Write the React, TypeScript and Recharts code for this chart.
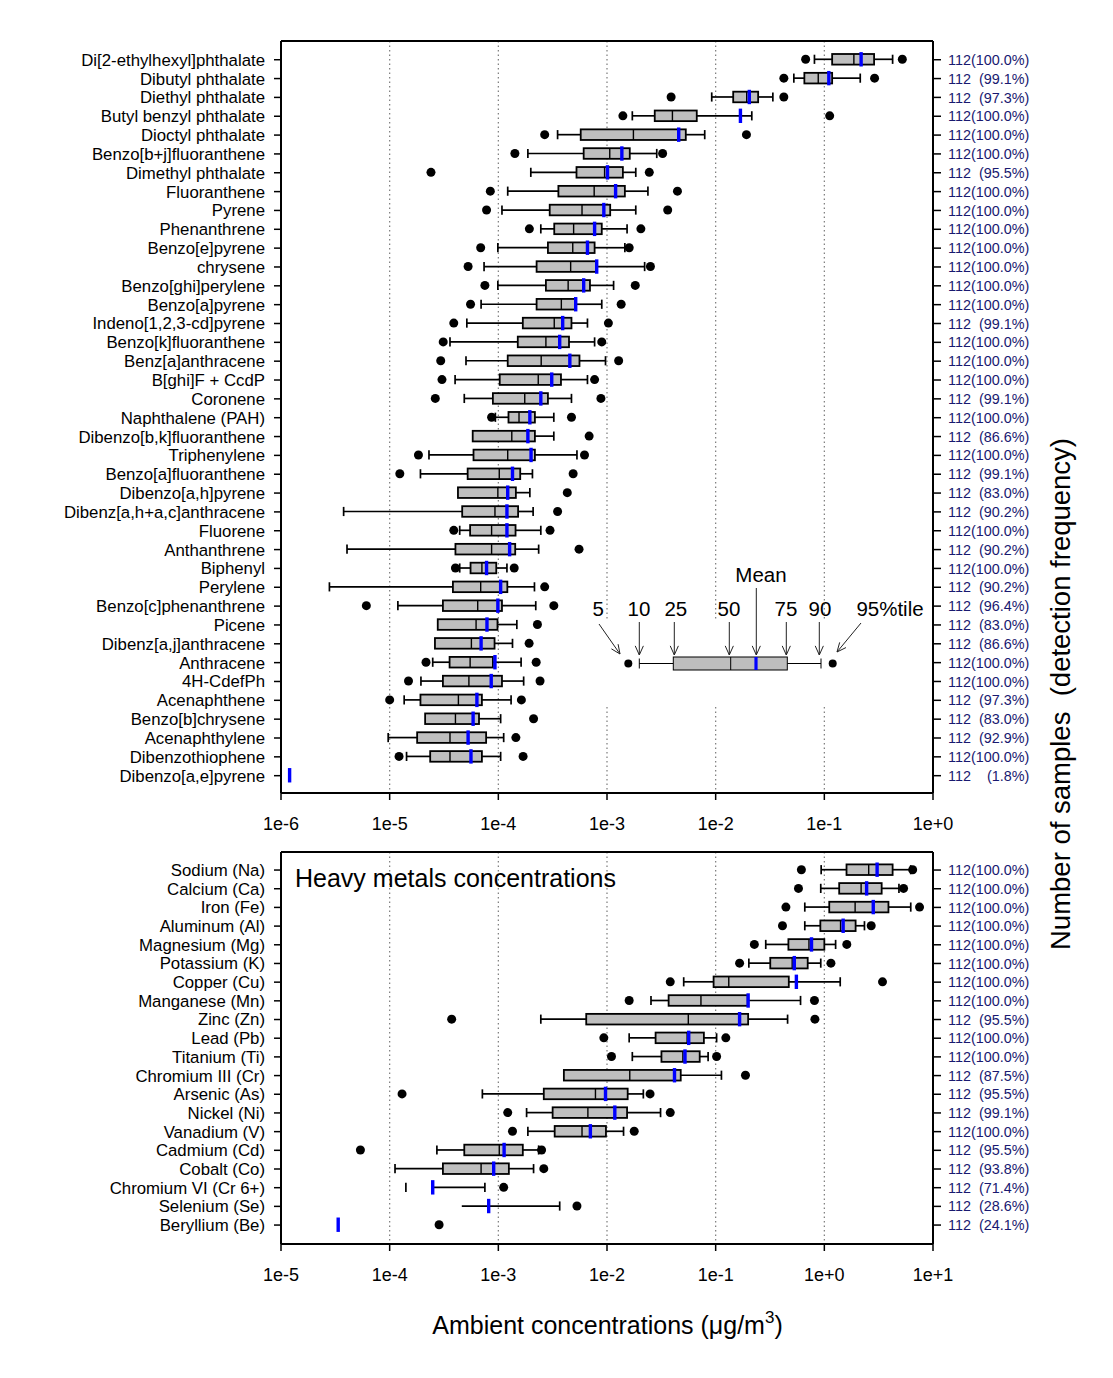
import React from 'react';
import { ComposedChart, Bar, XAxis, YAxis, CartesianGrid } from 'recharts';

const FONT = '"Liberation Sans", Arial, Helvetica, sans-serif';
const N_SAMPLES = 112;

// ---------- organic compounds (upper panel), ug/m3 ----------
const organicNames = [
  'Di[2-ethylhexyl]phthalate', 'Dibutyl phthalate', 'Diethyl phthalate', 'Butyl benzyl phthalate',
  'Dioctyl phthalate', 'Benzo[b+j]fluoranthene', 'Dimethyl phthalate', 'Fluoranthene', 'Pyrene',
  'Phenanthrene', 'Benzo[e]pyrene', 'chrysene', 'Benzo[ghi]perylene', 'Benzo[a]pyrene',
  'Indeno[1,2,3-cd]pyrene', 'Benzo[k]fluoranthene', 'Benz[a]anthracene', 'B[ghi]F + CcdP',
  'Coronene', 'Naphthalene (PAH)', 'Dibenzo[b,k]fluoranthene', 'Triphenylene',
  'Benzo[a]fluoranthene', 'Dibenzo[a,h]pyrene', 'Dibenz[a,h+a,c]anthracene', 'Fluorene',
  'Anthanthrene', 'Biphenyl', 'Perylene', 'Benzo[c]phenanthrene', 'Picene',
  'Dibenz[a,j]anthracene', 'Anthracene', '4H-CdefPh', 'Acenaphthene', 'Benzo[b]chrysene',
  'Acenaphthylene', 'Dibenzothiophene', 'Dibenzo[a,e]pyrene',
];
const organicFreq = [
  100, 99.1, 97.3, 100, 100, 100, 95.5, 100, 100, 100,
  100, 100, 100, 100, 99.1, 100, 100, 100, 99.1, 100,
  86.6, 100, 99.1, 83.0, 90.2, 100, 90.2, 100, 90.2, 96.4,
  83.0, 86.6, 100, 100, 97.3, 83.0, 92.9, 100, 1.8,
];
const organicP5 = [
  0.0673, 0.0424, 0.00389, 0.0014, 2.67e-4, 1.42e-4, 2.4e-5, 8.44e-5, 7.79e-5, 1.93e-4,
  6.88e-5, 5.27e-5, 7.52e-5, 5.55e-5, 3.89e-5, 3.11e-5, 2.95e-5, 3.03e-5, 2.63e-5, 8.67e-5,
  null, 1.84e-5, 1.24e-5, null, null, 3.89e-5, null, 4.03e-5, null, 6.1e-6,
  null, null, 2.16e-5, 1.49e-5, 1.0e-5, null, null, 1.22e-5, null,
];
const organicP10 = [
  0.0811, 0.0524, 0.0092, 0.00171, 3.51e-4, 1.87e-4, 1.99e-4, 1.22e-4, 1.08e-4, 2.46e-4,
  9.9e-5, 7.39e-5, 9.9e-5, 6.94e-5, 5.13e-5, 3.59e-5, 5.04e-5, 4.0e-5, 4.86e-5, 9.39e-5,
  null, 2.3e-5, 1.92e-5, null, 3.77e-6, 4.41e-5, 4.05e-6, 4.41e-5, 2.79e-6, 1.19e-5,
  null, null, 2.49e-5, 1.94e-5, 1.36e-5, null, 9.69e-6, 1.43e-5, null,
];
const organicP25 = [
  0.118, 0.0655, 0.0145, 0.00275, 5.73e-4, 6.1e-4, 5.24e-4, 3.57e-4, 2.97e-4, 3.27e-4,
  2.86e-4, 2.25e-4, 2.74e-4, 2.25e-4, 1.68e-4, 1.51e-4, 1.22e-4, 1.03e-4, 8.91e-5, 1.24e-4,
  5.81e-5, 5.91e-5, 5.22e-5, 4.25e-5, 4.65e-5, 5.5e-5, 4.03e-5, 5.55e-5, 3.82e-5, 3.09e-5,
  2.77e-5, 2.61e-5, 3.56e-5, 3.09e-5, 1.92e-5, 2.12e-5, 1.79e-5, 2.36e-5, null,
];
const organicP50 = [
  0.187, 0.0879, 0.0193, 0.004, 1.75e-3, 1.06e-3, 9.5e-4, 7.62e-4, 5.89e-4, 4.93e-4,
  4.84e-4, 4.63e-4, 4.39e-4, 3.8e-4, 3.27e-4, 2.74e-4, 2.48e-4, 2.33e-4, 1.75e-4, 1.55e-4,
  1.33e-4, 1.22e-4, 1.02e-4, 9.9e-5, 9.31e-5, 8.67e-5, 8.67e-5, 7.06e-5, 6.88e-5, 6.46e-5,
  6.24e-5, 5.65e-5, 5.5e-5, 5.36e-5, 4.29e-5, 4.03e-5, 3.59e-5, 3.59e-5, null,
];
const organicP75 = [
  0.287, 0.118, 0.0246, 0.0067, 5.31e-3, 1.62e-3, 1.4e-3, 1.46e-3, 1.07e-3, 8.95e-4,
  7.69e-4, 8.1e-4, 6.97e-4, 5.2e-4, 4.71e-4, 4.47e-4, 5.58e-4, 3.77e-4, 2.86e-4, 2.17e-4,
  2.17e-4, 2.17e-4, 1.59e-4, 1.45e-4, 1.52e-4, 1.44e-4, 1.43e-4, 9.57e-5, 1.21e-4, 1.08e-4,
  9.82e-5, 9.23e-5, 8.91e-5, 1.08e-4, 7.06e-5, 6.64e-5, 7.72e-5, 7.06e-5, null,
];
const organicP90 = [
  0.425, 0.214, 0.0336, 0.0215, 7.93e-3, 2.87e-3, 1.84e-3, 2.38e-3, 1.84e-3, 1.53e-3,
  1.46e-3, 2.22e-3, 1.15e-3, 8.95e-4, 6.61e-4, 7.69e-4, 9.69e-4, 6.61e-4, 4.71e-4, 3.24e-4,
  3.24e-4, 5.29e-4, 2.06e-4, 1.95e-4, 2.09e-4, 2.46e-4, 2.35e-4, 1.2e-4, 2.15e-4, 2.21e-4,
  1.48e-4, 1.35e-4, 1.62e-4, 1.71e-4, 1.31e-4, 1.05e-4, 1.12e-4, 1.05e-4, null,
];
const organicP95 = [
  0.522, 0.29, 0.0424, 0.112, 0.0192, 3.25e-3, 2.45e-3, 4.45e-3, 3.62e-3, 2.05e-3,
  1.6e-3, 2.51e-3, 1.82e-3, 1.35e-3, 1.03e-3, 8.95e-4, 1.28e-3, 7.69e-4, 8.79e-4, 4.71e-4,
  6.85e-4, 6.21e-4, 4.88e-4, 4.31e-4, 3.51e-4, 2.99e-4, 5.53e-4, 1.4e-4, 2.67e-4, 3.24e-4,
  2.29e-4, 1.92e-4, 2.23e-4, 2.42e-4, 1.63e-4, 2.11e-4, 1.45e-4, 1.69e-4, null,
];
const organicMean = [
  0.218, 0.11, 0.0204, 0.0169, 4.57e-3, 1.37e-3, 1.01e-3, 1.2e-3, 9.35e-4, 7.69e-4,
  6.61e-4, 8.04e-4, 6.1e-4, 5.15e-4, 3.91e-4, 3.67e-4, 4.55e-4, 3.1e-4, 2.46e-4, 1.95e-4,
  1.87e-4, 2.0e-4, 1.35e-4, 1.22e-4, 1.2e-4, 1.2e-4, 1.27e-4, 7.79e-5, 1.05e-4, 9.9e-5,
  7.86e-5, 6.94e-5, 9.31e-5, 8.6e-5, 6.35e-5, 5.86e-5, 5.27e-5, 5.6e-5, 1.2e-6,
];

// ---------- heavy metals (lower panel), ug/m3 ----------
const metalNames = [
  'Sodium (Na)', 'Calcium (Ca)', 'Iron (Fe)', 'Aluminum (Al)', 'Magnesium (Mg)',
  'Potassium (K)', 'Copper (Cu)', 'Manganese (Mn)', 'Zinc (Zn)', 'Lead (Pb)',
  'Titanium (Ti)', 'Chromium III (Cr)', 'Arsenic (As)', 'Nickel (Ni)', 'Vanadium (V)',
  'Cadmium (Cd)', 'Cobalt (Co)', 'Chromium VI (Cr 6+)', 'Selenium (Se)', 'Beryllium (Be)',
];
const metalFreq = [100, 100, 100, 100, 100, 100, 100, 100, 95.5, 100, 100, 87.5, 95.5, 99.1, 100, 95.5, 93.8, 71.4, 28.6, 24.1];
const metalP5 = [0.615, 0.578, 0.443, 0.412, 0.227, 0.166, 0.0382, 0.016, 3.72e-4, 9.35e-3, 0.011, null, 1.3e-4, 1.22e-3, 1.35e-3, 5.38e-5, null, null, null, null];
const metalP10 = [0.935, 0.927, 0.661, 0.661, 0.289, 0.202, 0.0508, 0.0254, 2.46e-3, 0.016, 0.0171, null, 7.13e-4, 1.82e-3, 1.87e-3, 2.72e-4, 1.12e-4, 1.41e-4, null, null];
const metalP25 = [1.6, 1.37, 1.11, 0.919, 0.467, 0.318, 0.0957, 0.0369, 6.44e-3, 0.028, 0.0317, 4.01e-3, 2.62e-3, 3.16e-3, 3.3e-3, 4.86e-4, 3.09e-4, null, null, null];
const metalP50 = [2.56, 2.18, 1.92, 1.41, 0.722, 0.506, 0.132, 0.0732, 0.056, 0.0546, 0.0499, 0.0162, 7.83e-3, 6.67e-3, 5.89e-3, 1.02e-3, 6.94e-4, null, null, null];
const metalP75 = [4.25, 3.37, 3.89, 1.94, 1.0, 0.703, 0.471, 0.197, 0.199, 0.0779, 0.0713, 0.0477, 0.0155, 0.0153, 9.78e-3, 1.68e-3, 1.25e-3, 2.49e-4, 4.61e-4, null];
const metalP90 = [6.24, 4.86, 6.24, 2.34, 1.27, 0.927, 1.4, 0.604, 0.459, 0.102, 0.0852, 0.113, 0.0216, 0.0311, 0.0142, 2.35e-3, 2.11e-3, 7.52e-4, 3.67e-3, null];
const metalP95 = [6.5, 5.36, 7.52, 2.7, 1.61, 1.15, 3.43, 0.811, 0.819, 0.124, 0.102, 0.188, 0.0249, 0.0382, 0.0178, 2.5e-3, 2.62e-3, 1.12e-3, 5.29e-3, 2.85e-4];
const metalMean = [3.06, 2.45, 2.82, 1.49, 0.762, 0.529, 0.553, 0.199, 0.166, 0.0565, 0.0522, 0.0418, 9.69e-3, 0.0118, 7.03e-3, 1.13e-3, 9.06e-4, 2.49e-4, 8.15e-4, 3.36e-5];

const organicTicks = [1e-6, 1e-5, 1e-4, 1e-3, 1e-2, 1e-1, 1];
const metalTicks = [1e-5, 1e-4, 1e-3, 1e-2, 1e-1, 1, 10];

// "112(100.0%)", "112 (99.1%)" ... padded with figure spaces like the original
const detLabel = (pct: number) => {
  const s = pct.toFixed(1);
  return `${N_SAMPLES}${'\u2007'.repeat(Math.max(0, 5 - s.length))}(${s}%)`;
};

const buildRows = (names: string[], freq: number[], p5: any[], p10: any[], p25: any[], p50: any[],
  p75: any[], p90: any[], p95: any[], mean: any[]) =>
  names.map((name, i) => ({
    name, label: detLabel(freq[i]),
    p5: p5[i], p10: p10[i], p25: p25[i], p50: p50[i], p75: p75[i], p90: p90[i], p95: p95[i], mean: mean[i],
  }));

const organicRows = buildRows(organicNames, organicFreq, organicP5, organicP10, organicP25, organicP50,
  organicP75, organicP90, organicP95, organicMean);
const metalRows = buildRows(metalNames, metalFreq, metalP5, metalP10, metalP25, metalP50,
  metalP75, metalP90, metalP95, metalMean);

const fmtPow = (v: number) => {
  const e = Math.round(Math.log10(v));
  return e < 0 ? `1e${e}` : `1e+${e}`;
};

// ---------- bar shapes (positions come from the bar's own x / width) ----------
const ok = (p: any) => Number.isFinite(p.x) && Number.isFinite(p.width) && Number.isFinite(p.y);
const midY = (p: any) => p.y + p.height / 2;

const WhiskerLine = (p: any) => {
  if (!ok(p)) return <g />;
  const cy = midY(p);
  return <line x1={p.x} x2={p.x + p.width} y1={cy} y2={cy} stroke="#000" strokeWidth={1.7} />;
};
const Cap = (p: any) => {
  if (!ok(p)) return <g />;
  const cx = p.x + p.width, cy = midY(p);
  return <line x1={cx} x2={cx} y1={cy - 4.6} y2={cy + 4.6} stroke="#000" strokeWidth={1.7} />;
};
const BoxRect = (p: any) => {
  if (!ok(p)) return <g />;
  const cy = midY(p);
  return <rect x={p.x} y={cy - 5.3} width={p.width} height={10.6} fill="#bfbfbf" stroke="#000" strokeWidth={1.8} />;
};
const Median = (p: any) => {
  if (!ok(p)) return <g />;
  const cx = p.x + p.width, cy = midY(p);
  return <line x1={cx} x2={cx} y1={cy - 5.3} y2={cy + 5.3} stroke="#000" strokeWidth={1.4} />;
};
const MeanMark = (p: any) => {
  if (!ok(p)) return <g />;
  const cx = p.x + p.width, cy = midY(p);
  return <line x1={cx} x2={cx} y1={cy - 7.2} y2={cy + 7.2} stroke="#0000ff" strokeWidth={3.4} />;
};
const Dot = (p: any) => {
  if (!ok(p)) return <g />;
  return <circle cx={p.x + p.width} cy={midY(p)} r={4.5} fill="#000" />;
};

const axisTick = { fontSize: 18, fill: '#000', fontFamily: FONT };
const nameTick = { fontSize: 16.8, fill: '#000', fontFamily: FONT };
const detTick = { fontSize: 14.4, fill: '#191970', fontFamily: FONT, style: { whiteSpace: 'pre' } };
const frame = { stroke: '#000', strokeWidth: 2 };
const tickStroke = { stroke: '#000', strokeWidth: 1.5 };

type PanelProps = {
  rows: any[]; lo: number; hi: number; ticks: number[];
  height: number; marginTop: number; padTop: number; padBottom: number;
};

const BoxPanel = ({ rows, lo, hi, ticks, height, marginTop, padTop, padBottom }: PanelProps) => {
  const labelOf = new Map(rows.map((r) => [r.name, r.label]));
  const upTo = (v: number | null) => (v == null ? null : [lo, v]);
  return (
    <ComposedChart
      width={1113} height={height} data={rows} layout="vertical"
      margin={{ top: marginTop, right: 10, bottom: 7, left: 0 }}
      barSize={12} barGap={-12}
    >
      <CartesianGrid horizontal={false} stroke="#7a7a7a" strokeWidth={1.2} strokeDasharray="1.5 3" />
      <XAxis
        type="number" scale="log" domain={[lo, hi]} ticks={ticks} allowDataOverflow interval={0}
        tickFormatter={fmtPow} tick={axisTick} tickSize={7} tickMargin={17} height={50}
        axisLine={frame} tickLine={tickStroke}
      />
      <XAxis
        xAxisId="top" orientation="top" type="number" scale="log" domain={[lo, hi]} allowDataOverflow
        ticks={ticks} height={1} tick={false} tickLine={false} axisLine={frame}
      />
      <YAxis
        type="category" dataKey="name" width={281} interval={0} padding={{ top: padTop, bottom: padBottom }}
        tick={nameTick} tickSize={7} tickMargin={9} axisLine={frame} tickLine={tickStroke}
      />
      <YAxis
        yAxisId="right" orientation="right" type="category" dataKey="name" width={170} interval={0}
        padding={{ top: padTop, bottom: padBottom }} tickFormatter={(v: string) => labelOf.get(v) ?? ''}
        tick={detTick} tickSize={8} tickMargin={7} axisLine={frame} tickLine={tickStroke}
      />
      <Bar dataKey={(d: any) => (d.p10 != null && d.p25 != null ? [d.p10, d.p25] : null)} shape={WhiskerLine} isAnimationActive={false} />
      <Bar dataKey={(d: any) => (d.p75 != null && d.p90 != null ? [d.p75, d.p90] : null)} shape={WhiskerLine} isAnimationActive={false} />
      <Bar dataKey={(d: any) => upTo(d.p10)} shape={Cap} isAnimationActive={false} />
      <Bar dataKey={(d: any) => upTo(d.p90)} shape={Cap} isAnimationActive={false} />
      <Bar dataKey={(d: any) => (d.p25 != null && d.p75 != null ? [d.p25, d.p75] : null)} shape={BoxRect} isAnimationActive={false} />
      <Bar dataKey={(d: any) => upTo(d.p50)} shape={Median} isAnimationActive={false} />
      <Bar dataKey={(d: any) => upTo(d.p5)} shape={Dot} isAnimationActive={false} />
      <Bar xAxisId="top" dataKey={(d: any) => upTo(d.p95)} shape={Dot} isAnimationActive={false} />
      <Bar yAxisId="right" dataKey={(d: any) => upTo(d.mean)} shape={MeanMark} isAnimationActive={false} />
    </ComposedChart>
  );
};

// ---------- percentile key and titles ----------
const arrowPath = (x1: number, y1: number, x2: number, y2: number) => {
  const a = Math.atan2(y2 - y1, x2 - x1);
  const L = 10, s = 0.42;
  const ax = x2 - L * Math.cos(a - s), ay = y2 - L * Math.sin(a - s);
  const bx = x2 - L * Math.cos(a + s), by = y2 - L * Math.sin(a + s);
  return `M${x1},${y1} L${x2},${y2} M${ax},${ay} L${x2},${y2} L${bx},${by}`;
};

const keyArrows = [
  [599, 624, 620, 654], [639.3, 622, 639.3, 655], [674.3, 622, 674.3, 655], [729.3, 622, 729.3, 655],
  [756.3, 588, 756.3, 655], [786.3, 622, 786.3, 655], [819.3, 622, 819.3, 655], [861, 623, 837, 652],
];
const keyLabels: [string, number][] = [
  ['5', 598.3], ['10', 639], ['25', 675.8], ['50', 729], ['75', 786], ['90', 820], ['95%tile', 890],
];

const Annotations = () => {
  const ky = 663.5;
  return (
    <svg width={1113} height={1378} style={{ position: 'absolute', left: 0, top: 0, pointerEvents: 'none' }}
      fontFamily={FONT}>
      <rect x={590} y={619} width={341} height={88} fill="#fff" />
      <circle cx={628.3} cy={ky} r={4} fill="#000" />
      <line x1={639.3} x2={673.3} y1={ky} y2={ky} stroke="#000" />
      <line x1={639.3} x2={639.3} y1={ky - 5} y2={ky + 5} stroke="#000" />
      <rect x={673.3} y={ky - 6.5} width={114} height={13} fill="#bebebe" stroke="#000" />
      <line x1={730.7} x2={730.7} y1={ky - 6.5} y2={ky + 6.5} stroke="#000" />
      <line x1={756} x2={756} y1={ky - 6.5} y2={ky + 6.5} stroke="#0000ff" strokeWidth={3.2} />
      <line x1={787.3} x2={821} y1={ky} y2={ky} stroke="#000" />
      <line x1={821} x2={821} y1={ky - 5} y2={ky + 5} stroke="#000" />
      <circle cx={832.7} cy={ky} r={4} fill="#000" />
      {keyArrows.map(([a, b, c, d], i) => (
        <path key={i} d={arrowPath(a, b, c, d)} stroke="#222" strokeWidth={1} fill="none" />
      ))}
      {keyLabels.map(([t, x]) => (
        <text key={t} x={x} y={616} textAnchor="middle" fontSize={20.5} fill="#000">{t}</text>
      ))}
      <text x={761} y={582} textAnchor="middle" fontSize={20.5} fill="#000">Mean</text>

      <text x={295} y={887} fontSize={25} fill="#000">Heavy metals concentrations</text>

      <text x={607.5} y={1334} textAnchor="middle" fontSize={25} fill="#000">
        Ambient concentrations (μg/m<tspan dy={-11} fontSize={17}>3</tspan><tspan dy={11}>)</tspan>
      </text>
      <text transform="translate(1070,694) rotate(-90)" textAnchor="middle" fontSize={27.5} fill="#000"
        xmlSpace="preserve" style={{ whiteSpace: 'pre' }}>
        {'Number of samples  (detection frequency)'}
      </text>
    </svg>
  );
};

export default function App() {
  return (
    <div style={{ position: 'absolute', left: 0, top: 0, width: 1113, height: 1378, background: '#fff', fontFamily: FONT }}>
      <div style={{ position: 'absolute', left: 0, top: 0 }}>
        <BoxPanel rows={organicRows} lo={1e-6} hi={1} ticks={organicTicks}
          height={850} marginTop={40} padTop={9.3} padBottom={7.9} />
      </div>
      <div style={{ position: 'absolute', left: 0, top: 840 }}>
        <BoxPanel rows={metalRows} lo={1e-5} hi={10} ticks={metalTicks}
          height={461} marginTop={11} padTop={8.7} padBottom={9.6} />
      </div>
      <Annotations />
    </div>
  );
}
